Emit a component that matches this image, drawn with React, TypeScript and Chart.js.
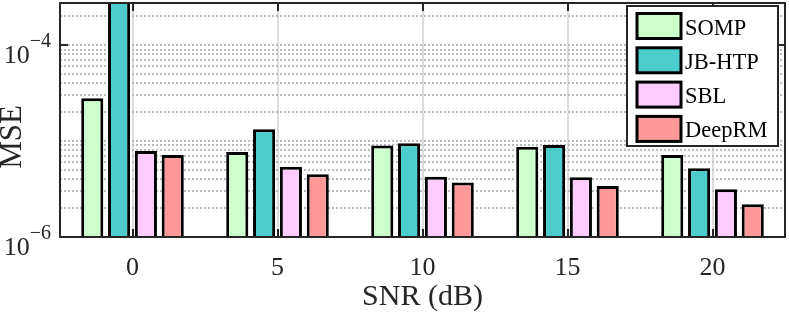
import React, { useEffect, useRef } from 'react';
import { Chart, registerables } from 'chart.js';

Chart.register(...registerables);

// ---- data ----
const categories = ['0', '5', '10', '15', '20'];
const seriesNames = ['SOMP', 'JB-HTP', 'SBL', 'DeepRM'];
const sompValues = [2.8e-5, 7.7e-6, 9.0e-6, 8.7e-6, 7.15e-6];
const jbhtpValues = [3.2e-4, 1.33e-5, 9.5e-6, 9.1e-6, 5.2e-6];
const sblValues = [7.9e-6, 5.4e-6, 4.25e-6, 4.2e-6, 3.15e-6];
const deeprmValues = [7.15e-6, 4.5e-6, 3.7e-6, 3.4e-6, 2.2e-6];
const seriesColors = ['#CCFFCC', '#4DCCCC', '#FFCCFF', '#FF9999'];
const yMin = 1e-6;
const yMax = 2.75e-4;
const yMajorTicks = [1e-6, 1e-4];
const xTitle = 'SNR (dB)';
const yTitle = 'MSE';

const FONT = "'Liberation Serif', 'Times New Roman', Times, serif";
const AXIS = '#262626';

const overlayPlugin = {
  id: 'matlabOverlay',
  beforeDatasetsDraw(chart: any) {
    const { ctx, chartArea } = chart;
    const y = chart.scales.y;
    ctx.save();
    ctx.beginPath();
    ctx.rect(chartArea.left, chartArea.top, chartArea.right - chartArea.left, chartArea.bottom - chartArea.top);
    ctx.clip();
    ctx.strokeStyle = '#bcbcbc';
    ctx.lineWidth = 2;
    ctx.setLineDash([2, 2]);
    const e0 = Math.floor(Math.log10(yMin));
    const e1 = Math.ceil(Math.log10(yMax));
    for (let e = e0; e <= e1; e++) {
      for (let m = 1; m <= 9; m++) {
        const v = m * Math.pow(10, e);
        if (v < yMin * 0.999 || v > yMax) continue;
        const py = Math.round(y.getPixelForValue(v));
        ctx.beginPath();
        ctx.moveTo(chartArea.left, py);
        ctx.lineTo(chartArea.right, py);
        ctx.stroke();
      }
    }
    ctx.restore();
  },
  afterDatasetsDraw(chart: any) {
    const { ctx, chartArea } = chart;
    const xs = chart.scales.x;
    const ys = chart.scales.y;
    const L = chartArea.left, R = chartArea.right, T = chartArea.top, B = chartArea.bottom;
    ctx.save();
    // tick marks (inside)
    ctx.strokeStyle = AXIS;
    ctx.lineWidth = 2;
    const tl = 8;
    categories.forEach((_, i) => {
      const px = Math.round(xs.getPixelForValue(i));
      ctx.beginPath();
      ctx.moveTo(px, B);
      ctx.lineTo(px, B - tl);
      ctx.moveTo(px, T);
      ctx.lineTo(px, T + tl);
      ctx.stroke();
    });
    yMajorTicks.forEach((v) => {
      const py = Math.round(ys.getPixelForValue(v));
      ctx.beginPath();
      ctx.moveTo(L, py);
      ctx.lineTo(L + tl, py);
      ctx.moveTo(R, py);
      ctx.lineTo(R - tl, py);
      ctx.stroke();
    });
    // box
    ctx.strokeRect(L, T, R - L, B - T);

    // y tick labels with superscripts
    ctx.fillStyle = AXIS;
    ctx.textBaseline = 'alphabetic';
    ctx.textAlign = 'left';
    yMajorTicks.forEach((v) => {
      const py = ys.getPixelForValue(v);
      const exp = String(Math.round(Math.log10(v))).replace('-', '\u2212');
      ctx.font = `26px ${FONT}`;
      const wBase = ctx.measureText('10').width;
      ctx.font = `20px ${FONT}`;
      const wExp = ctx.measureText(exp).width;
      const x0 = L - 9 - wBase - wExp;
      ctx.font = `26px ${FONT}`;
      ctx.fillText('10', x0, py + 18);
      ctx.font = `20px ${FONT}`;
      ctx.fillText(exp, x0 + wBase, py + 1.5);
    });

    // y title
    ctx.save();
    ctx.translate(21, 137);
    ctx.rotate(-Math.PI / 2);
    ctx.font = `31px ${FONT}`;
    ctx.textAlign = 'center';
    ctx.textBaseline = 'alphabetic';
    ctx.fillText(yTitle, 0, 0);
    ctx.restore();

    // legend
    const lx = 627, ly = 6, lw = 151, lh = 140;
    ctx.fillStyle = '#ffffff';
    ctx.fillRect(lx, ly, lw, lh);
    ctx.strokeStyle = AXIS;
    ctx.lineWidth = 2;
    ctx.strokeRect(lx, ly, lw, lh);
    chart.data.datasets.forEach((ds: any, i: number) => {
      const sy = 13.5 + i * 34.3;
      ctx.fillStyle = ds.backgroundColor;
      ctx.fillRect(637, sy, 44, 25);
      ctx.strokeStyle = '#000';
      ctx.lineWidth = 3;
      ctx.strokeRect(637, sy, 44, 25);
      ctx.fillStyle = '#000';
      ctx.font = `22.5px ${FONT}`;
      ctx.textAlign = 'left';
      ctx.textBaseline = 'alphabetic';
      ctx.fillText(ds.label, 685, sy + 21);
    });
    ctx.restore();
  },
};

export default function App() {
  const ref = useRef<HTMLCanvasElement>(null);
  useEffect(() => {
    const seriesValues = [sompValues, jbhtpValues, sblValues, deeprmValues];
    const chart = new Chart(ref.current!, {
      type: 'bar',
      data: {
        labels: categories,
        datasets: seriesNames.map((name, i) => ({
          label: name,
          data: seriesValues[i],
          backgroundColor: seriesColors[i],
          borderColor: '#000000',
          borderWidth: 3,
          borderSkipped: 'start',
          categoryPercentage: 0.74,
          barPercentage: 0.824,
        })),
      },
      options: {
        responsive: false,
        maintainAspectRatio: false,
        animation: false,
        devicePixelRatio: 1,
        layout: { padding: { left: 0, top: 3, right: 4, bottom: 0 } },
        plugins: { legend: { display: false }, tooltip: { enabled: false } },
        scales: {
          x: {
            type: 'category',
            offset: true,
            grid: { display: true, offset: false, color: '#dcdcdc', lineWidth: 2, drawTicks: false },
            border: { display: false },
            ticks: { font: { family: FONT, size: 26 }, color: AXIS, padding: 16 },
            title: {
              display: true,
              text: xTitle,
              font: { family: FONT, size: 30 },
              color: AXIS,
              padding: { top: 0, bottom: 0 },
            },
            afterFit: (s: any) => {
              s.height = 78;
            },
          },
          y: {
            type: 'logarithmic',
            min: yMin,
            max: yMax,
            grid: { display: false },
            border: { display: false },
            ticks: { display: false },
            afterFit: (s: any) => {
              s.width = 60;
            },
          },
        },
      },
      plugins: [overlayPlugin],
    } as any);
    return () => chart.destroy();
  }, []);
  return (
    <div style={{ position: 'fixed', left: 0, top: 0, width: 789, height: 315, background: '#fff' }}>
      <canvas ref={ref} width={789} height={315} style={{ display: 'block' }} />
    </div>
  );
}
